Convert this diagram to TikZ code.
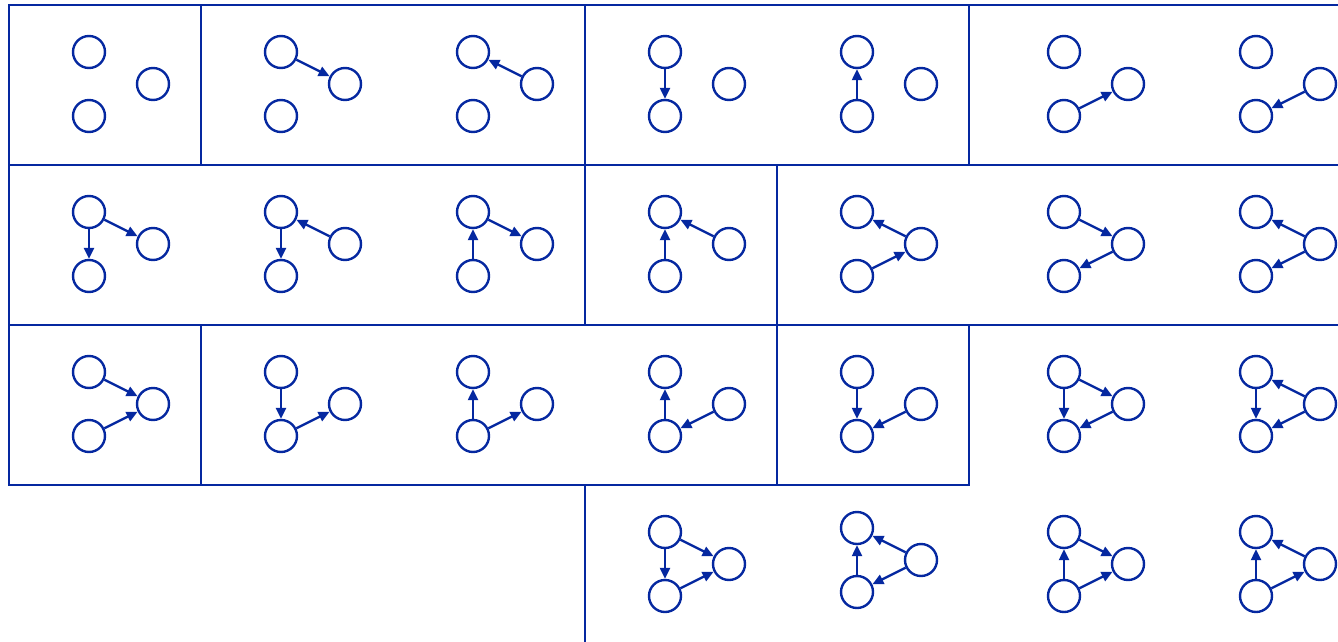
\documentclass[tikz,border=0pt]{standalone}
\usetikzlibrary{arrows.meta}
\definecolor{navy}{RGB}{5,40,160}
\tikzset{
  vtx/.style={circle,draw=navy,line width=2.4pt,minimum size=32pt,inner sep=0pt},
  edge/.style={draw=navy,line width=2.3pt,-{Triangle[length=11pt,width=10pt]},shorten >=0pt},
  frame/.style={draw=navy,line width=2.8pt,line cap=rect}
}
\newcommand{\triad}[3]{%
  \node[vtx] (#1a) at (#2,#3) {};
  \node[vtx] (#1b) at (#2,#3+64) {};
  \node[vtx] (#1c) at (#2+64,#3+32) {};
}
\begin{document}
\begin{tikzpicture}[x=1pt,y=-1pt]
\useasboundingbox (0,0) rectangle (1338,642);
% frame lines
\coordinate (h0l) at (9,5);   \coordinate (h0r) at (1338,5);
\coordinate (h1l) at (9,165); \coordinate (h1r) at (1338,165);
\coordinate (h2l) at (9,325); \coordinate (h2r) at (1338,325);
\coordinate (h3l) at (9,485); \coordinate (h3r) at (969,485);
\draw[frame] (h0l) -- (h0r);
\draw[frame] (h1l) -- (h1r);
\draw[frame] (h2l) -- (h2r);
\draw[frame] (h3l) -- (h3r);
\draw[frame] (h0l) -- (h3l);
\draw[frame] (201,5) -- (201,165);
\draw[frame] (201,325) -- (201,485);
\draw[frame] (585,5) -- (585,325);
\draw[frame] (585,485) -- (585,642);
\draw[frame] (777,165) -- (777,485);
\draw[frame] (969,5) -- (969,165);
\draw[frame] (969,325) -- (969,485);
% row 0
\triad{p00}{89}{52}
\triad{p01}{281}{52}
\triad{p02}{473}{52}
\triad{p03}{665}{52}
\triad{p04}{857}{52}
\triad{p05}{1064}{52}
\triad{p06}{1256}{52}
\draw[edge] (p01a) -- (p01c);
\draw[edge] (p02c) -- (p02a);
\draw[edge] (p03a) -- (p03b);
\draw[edge] (p04b) -- (p04a);
\draw[edge] (p05b) -- (p05c);
\draw[edge] (p06c) -- (p06b);
% row 1
\triad{q00}{89}{212}
\triad{q01}{281}{212}
\triad{q02}{473}{212}
\triad{q03}{665}{212}
\triad{q04}{857}{212}
\triad{q05}{1064}{212}
\triad{q06}{1256}{212}
\draw[edge] (q00a) -- (q00b);
\draw[edge] (q00a) -- (q00c);
\draw[edge] (q01a) -- (q01b);
\draw[edge] (q01c) -- (q01a);
\draw[edge] (q02b) -- (q02a);
\draw[edge] (q02a) -- (q02c);
\draw[edge] (q03b) -- (q03a);
\draw[edge] (q03c) -- (q03a);
\draw[edge] (q04c) -- (q04a);
\draw[edge] (q04b) -- (q04c);
\draw[edge] (q05a) -- (q05c);
\draw[edge] (q05c) -- (q05b);
\draw[edge] (q06c) -- (q06a);
\draw[edge] (q06c) -- (q06b);
% row 2
\triad{r00}{89}{372}
\triad{r01}{281}{372}
\triad{r02}{473}{372}
\triad{r03}{665}{372}
\triad{r04}{857}{372}
\triad{r05}{1064}{372}
\triad{r06}{1256}{372}
\draw[edge] (r00a) -- (r00c);
\draw[edge] (r00b) -- (r00c);
\draw[edge] (r01a) -- (r01b);
\draw[edge] (r01b) -- (r01c);
\draw[edge] (r02b) -- (r02a);
\draw[edge] (r02b) -- (r02c);
\draw[edge] (r03b) -- (r03a);
\draw[edge] (r03c) -- (r03b);
\draw[edge] (r04a) -- (r04b);
\draw[edge] (r04c) -- (r04b);
\draw[edge] (r05a) -- (r05b);
\draw[edge] (r05a) -- (r05c);
\draw[edge] (r05c) -- (r05b);
\draw[edge] (r06c) -- (r06a);
\draw[edge] (r06a) -- (r06b);
\draw[edge] (r06c) -- (r06b);
% row 3
\triad{s03}{665}{532}
\triad{s04}{857}{528}
\triad{s05}{1064}{532}
\triad{s06}{1256}{532}
\draw[edge] (s03a) -- (s03b);
\draw[edge] (s03a) -- (s03c);
\draw[edge] (s03b) -- (s03c);
\draw[edge] (s04b) -- (s04a);
\draw[edge] (s04c) -- (s04a);
\draw[edge] (s04c) -- (s04b);
\draw[edge] (s05b) -- (s05a);
\draw[edge] (s05a) -- (s05c);
\draw[edge] (s05b) -- (s05c);
\draw[edge] (s06b) -- (s06a);
\draw[edge] (s06c) -- (s06a);
\draw[edge] (s06b) -- (s06c);
\end{tikzpicture}
\end{document}
